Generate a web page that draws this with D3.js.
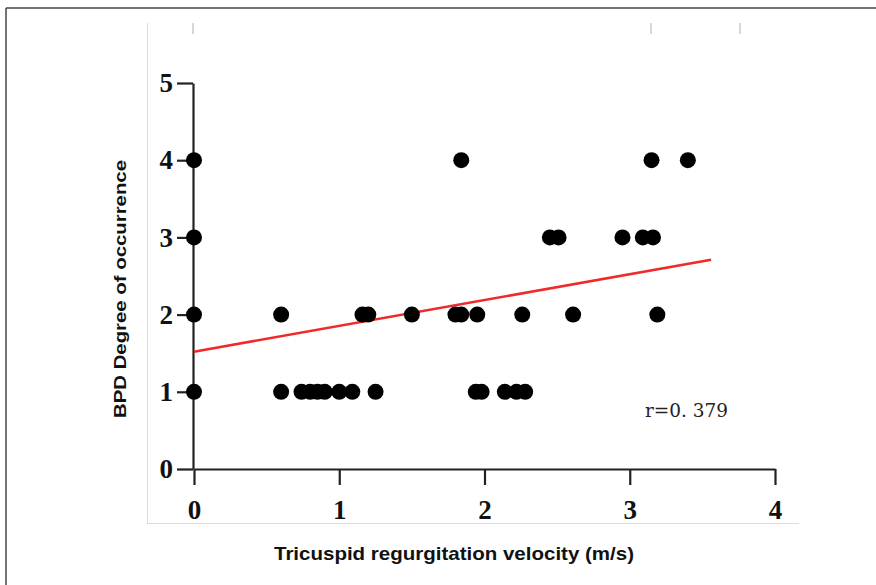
<!DOCTYPE html>
<html><head><meta charset="utf-8">
<script src="https://cdn.jsdelivr.net/npm/d3@7"></script>
<style>
html,body{margin:0;padding:0;background:#fff;}
svg{display:block;}
</style></head>
<body>
<svg id="chart" width="876" height="585"></svg>
<script>
// Data
const level1X = [0, 0.60, 0.74, 0.80, 0.85, 0.90, 1.00, 1.09, 1.25, 1.94, 1.98, 2.14, 2.22, 2.28];
const level2X = [0, 0.60, 1.16, 1.20, 1.50, 1.80, 1.84, 1.95, 2.26, 2.61, 3.19];
const level3X = [0, 2.45, 2.51, 2.95, 3.09, 3.16];
const level4X = [0, 1.84, 3.15, 3.40];
const levels = [1, 2, 3, 4];
const fitLine = [[0, 1.52], [3.56, 2.71]];
const xTicks = [0, 1, 2, 3, 4];
const yTicks = [0, 1, 2, 3, 4, 5];
const annotation = "r=0. 379";
const xTitle = "Tricuspid regurgitation velocity (m/s)";
const yTitle = "BPD Degree of occurrence";

const points = [];
[level1X, level2X, level3X, level4X].forEach((arr, i) => arr.forEach(v => points.push({x: v, y: levels[i]})));

const svg = d3.select("#chart");
const x = d3.scaleLinear().domain([0, 4]).range([194, 775]);
const y = d3.scaleLinear().domain([0, 5]).range([469, 83]);

// outer frame
svg.append("line").attr("x1", 6).attr("x2", 876).attr("y1", 8).attr("y2", 8).attr("stroke", "#444").attr("stroke-width", 1.5);
svg.append("line").attr("x1", 6).attr("x2", 6).attr("y1", 8).attr("y2", 585).attr("stroke", "#444").attr("stroke-width", 1.5);
// light panel edges
svg.append("line").attr("x1", 147.5).attr("x2", 147.5).attr("y1", 23).attr("y2", 523).attr("stroke", "#dcdcdc").attr("stroke-width", 1);
svg.append("line").attr("x1", 147).attr("x2", 799).attr("y1", 523.5).attr("y2", 523.5).attr("stroke", "#dcdcdc").attr("stroke-width", 1);
// faint top marks
[193, 651, 740].forEach(px => {
  svg.append("line").attr("x1", px).attr("x2", px).attr("y1", 23).attr("y2", 34).attr("stroke", "#b4bccb").attr("stroke-width", 1.2);
});

// axes
const xAxis = d3.axisBottom(x).tickValues(xTicks).tickSize(16).tickSizeOuter(0).tickPadding(15).tickFormat(d3.format("d"));
const yAxis = d3.axisLeft(y).tickValues(yTicks).tickSize(16).tickSizeOuter(0).tickPadding(4).tickFormat(d3.format("d"));

const gx = svg.append("g").attr("transform", `translate(0,${y(0)})`).call(xAxis);
const gy = svg.append("g").attr("transform", `translate(${x(0) - 1},0)`).call(yAxis);
[gx, gy].forEach(g => {
  g.selectAll("path.domain").attr("stroke", "#222").attr("stroke-width", 2.2);
  g.selectAll(".tick line").attr("stroke", "#222").attr("stroke-width", 2.2);
  g.selectAll(".tick text").attr("fill", "#111")
    .style("font-family", "'Liberation Serif','Times New Roman',serif")
    .style("font-weight", "bold").style("font-size", "27px");
});

// regression line
svg.append("line")
  .attr("x1", x(fitLine[0][0])).attr("y1", y(fitLine[0][1]))
  .attr("x2", x(fitLine[1][0])).attr("y2", y(fitLine[1][1]))
  .attr("stroke", "#f02a2a").attr("stroke-width", 2.6);

// points
svg.append("g").selectAll("circle").data(points).join("circle")
  .attr("cx", d => x(d.x)).attr("cy", d => y(d.y)).attr("r", 8).attr("fill", "#000");

// annotation
svg.append("text").attr("x", 645).attr("y", 417).text(annotation)
  .attr("textLength", 83).attr("lengthAdjust", "spacingAndGlyphs")
  .style("font-family", "'DejaVu Serif','Liberation Serif',serif")
  .style("font-size", "18px").style("font-weight", "normal").attr("fill", "#222");

// titles
svg.append("text").attr("x", 454).attr("y", 560).attr("text-anchor", "middle").text(xTitle)
  .attr("textLength", 360).attr("lengthAdjust", "spacingAndGlyphs")
  .style("font-family", "'Liberation Sans',Arial,sans-serif").style("font-weight", "bold").style("font-size", "19px").attr("fill", "#111");

svg.append("text").attr("transform", "translate(126,289) rotate(-90)").attr("text-anchor", "middle").text(yTitle)
  .attr("textLength", 258).attr("lengthAdjust", "spacingAndGlyphs")
  .style("font-family", "'Liberation Sans',Arial,sans-serif").style("font-weight", "bold").style("font-size", "17px").attr("fill", "#111");
</script>
</body></html>
